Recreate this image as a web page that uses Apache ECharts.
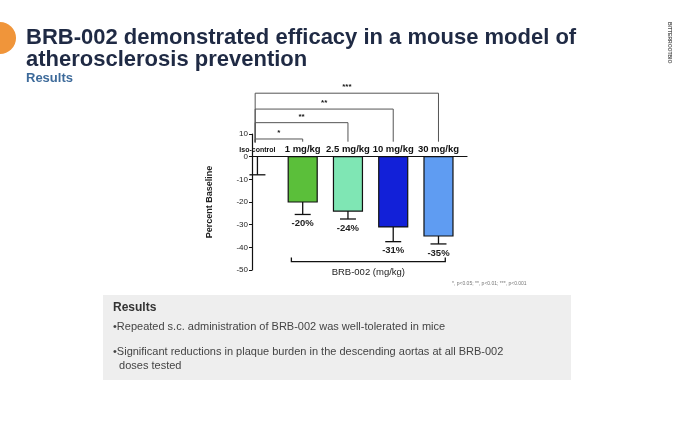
<!DOCTYPE html>
<html><head><meta charset="utf-8">
<script src="https://cdn.jsdelivr.net/npm/echarts@6/dist/echarts.min.js"></script>
<style>html,body{margin:0;background:#fff}#c{width:680px;height:423px}</style>
</head><body><div id="c"></div>
<script>
// data
const groups = ['Iso-control', '1 mg/kg', '2.5 mg/kg', '10 mg/kg', '30 mg/kg'];
const means = [0, -20, -24, -31, -35];
const errLow = [-8, -25.5, -27.5, -37.5, -38.5];
const pctLabels = ['', '-20%', '-24%', '-31%', '-35%'];
const barColors = ['#ffffff', '#5bbf3a', '#7fe6b4', '#1220d8', '#5f9cf2'];
const yTicks = [-50, -40, -30, -20, -10, 0, 10];
// significance brackets: [target group index, bracket height, stars]
const sigs = [[1, 7.8, '*'], [2, 15, '**'], [3, 21, '**'], [4, 28, '***']];

const chart = echarts.init(document.getElementById('c'));
const font = 'Liberation Sans, Arial, sans-serif';

chart.setOption({
  animation: false,
  textStyle: { fontFamily: font },
  grid: { left: 252, right: 213, top: 134, height: 136 },
  xAxis: {
    type: 'value', min: -0.12, max: 4.63,
    axisLine: { onZero: true, lineStyle: { color: '#111', width: 1.2 } },
    axisTick: { show: false }, axisLabel: { show: false }, splitLine: { show: false }
  },
  yAxis: {
    type: 'value', min: yTicks[0], max: yTicks[yTicks.length - 1], interval: 10,
    axisLine: { show: true, onZero: false, lineStyle: { color: '#111', width: 1.2 } },
    axisTick: { show: true, length: 3, lineStyle: { color: '#111' } },
    axisLabel: { fontSize: 8, color: '#222', margin: 4 },
    splitLine: { show: false },
    name: 'Percent Baseline', nameLocation: 'middle', nameGap: 38,
    nameTextStyle: { fontSize: 9, fontWeight: 'bold', color: '#222' }
  },
  series: [
    {
      type: 'custom', clip: false, z: 3,
      data: means.map((m, i) => [i, m, errLow[i]]),
      renderItem(params, api) {
        const i = api.value(0);
        const top = api.coord([i, 0]);
        const bot = api.coord([i, api.value(1)]);
        const e = api.coord([i, api.value(2)]);
        const w = 29;
        const ch = [];
        if (i > 0) ch.push({ type: 'rect', shape: { x: top[0] - w / 2, y: top[1], width: w, height: bot[1] - top[1] },
          style: { fill: barColors[i], stroke: '#111', lineWidth: 1.2 } });
        ch.push({ type: 'line', shape: { x1: e[0], y1: bot[1], x2: e[0], y2: e[1] }, style: { stroke: '#111', lineWidth: 1.3 } });
        ch.push({ type: 'line', shape: { x1: e[0] - 8, y1: e[1], x2: e[0] + 8, y2: e[1] }, style: { stroke: '#111', lineWidth: 1.3 } });
        if (pctLabels[i]) ch.push({ type: 'text', x: e[0], y: e[1] + 4,
          style: { text: pctLabels[i], fill: '#222', font: 'bold 9.5px ' + font, align: 'center', verticalAlign: 'top' } });
        const lab = api.coord([i, 3]);
        ch.push({ type: 'text', x: lab[0], y: lab[1],
          style: { text: groups[i], fill: '#111', font: 'bold ' + (i ? 9.5 : 7) + 'px ' + font, align: 'center', verticalAlign: 'middle' } });
        return { type: 'group', children: ch };
      }
    },
    {
      type: 'custom', clip: false, z: 3,
      data: sigs,
      renderItem(params, api) {
        const t = api.value(0), h = api.value(1);
        const l = api.coord([-0.05, h]), r = api.coord([t, h]);
        const lb = api.coord([-0.05, 6.3]), rb = api.coord([t, 6.6]);
        const st = { stroke: '#555', lineWidth: 1 };
        return { type: 'group', children: [
          { type: 'polyline', shape: { points: [[lb[0], lb[1]], [l[0], l[1]], [r[0], r[1]], [rb[0], rb[1]]] }, style: Object.assign({ fill: null }, st) },
          { type: 'text', x: (l[0] + r[0]) / 2, y: l[1] - 2,
            style: { text: sigs[params.dataIndex][2], fill: '#111', font: 'bold 8px ' + font, align: 'center', verticalAlign: 'bottom' } }
        ] };
      }
    },
    {
      type: 'custom', clip: false,
      data: [[0.75, 3.2]],
      renderItem(params, api) {
        const a = api.coord([api.value(0), -46.3]), b = api.coord([api.value(1) + 0.95, -46.3]);
        const a0 = api.coord([api.value(0), -44.5]);
        const m = api.coord([(api.value(0) + api.value(1) + 0.95) / 2, -49]);
        return { type: 'group', children: [
          { type: 'polyline', shape: { points: [[a[0], a0[1]], [a[0], a[1]], [b[0], b[1]], [b[0], a0[1]]] }, style: { stroke: '#111', lineWidth: 1.3, fill: null } },
          { type: 'text', x: m[0], y: m[1], style: { text: 'BRB-002 (mg/kg)', fill: '#222', font: '9.5px ' + font, align: 'center', verticalAlign: 'top' } }
        ] };
      }
    }
  ],
  graphic: [
    { type: 'circle', shape: { cx: 0, cy: 38, r: 16 }, style: { fill: '#f0953a' } },
    { type: 'text', left: 26, top: 27, style: { text: 'BRB-002 demonstrated efficacy in a mouse model of\natherosclerosis prevention', font: 'bold 22px ' + font, fill: '#1f2a44', lineHeight: 22 } },
    { type: 'text', left: 26, top: 72, style: { text: 'Results', font: 'bold 13px ' + font, fill: '#3d6a9a' } },
    { type: 'text', x: 672, y: 22, rotation: -Math.PI / 2, style: { text: 'BITTERROOTBIO', font: 'bold 5px ' + font, fill: '#555' } },
    { type: 'text', left: 452, top: 281, style: { text: '*, p<0.05; **, p<0.01; ***, p<0.001', font: '5px ' + font, fill: '#777' } },
    { type: 'rect', shape: { x: 103, y: 295, width: 468, height: 85 }, style: { fill: '#eeeeee' } },
    { type: 'text', left: 113, top: 302, style: { text: 'Results', font: 'bold 12px ' + font, fill: '#333' } },
    { type: 'text', left: 113, top: 321, style: { text: '•Repeated s.c. administration of BRB-002 was well-tolerated in mice', font: '11px ' + font, fill: '#444' } },
    { type: 'text', left: 113, top: 345, style: { text: '•Significant reductions in plaque burden in the descending aortas at all BRB-002\n  doses tested', font: '11px ' + font, fill: '#444', lineHeight: 14 } }
  ]
});
</script></body></html>
